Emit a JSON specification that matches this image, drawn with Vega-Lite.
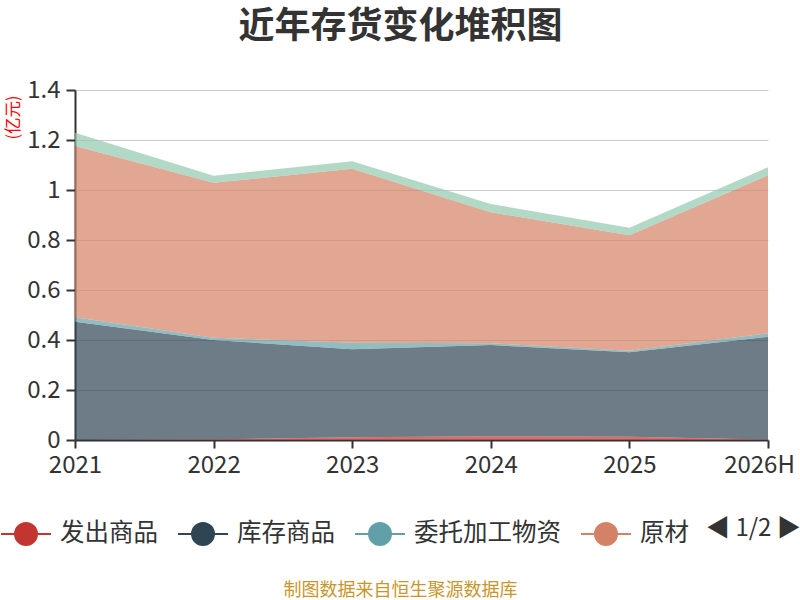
{
  "$schema": "https://vega.github.io/schema/vega-lite/v6.json",
  "autosize": {"type": "none"},
  "width": 693,
  "height": 350,
  "padding": {"left": 75, "top": 90, "right": 32, "bottom": 160},
  "background": "#ffffff",
  "config": {"font": "Noto Sans CJK SC", "view": {"stroke": null}},
  "title": {"text": "近年存货变化堆积图", "fontSize": 36, "fontWeight": "bold", "color": "#333333", "anchor": "middle", "dx": -21, "offset": 15, "baseline": "middle"},
  "data": {"values": [
    {"year": "2021", "series": "发出商品", "k": 1, "value": 0.0},
    {"year": "2022", "series": "发出商品", "k": 1, "value": 0.003},
    {"year": "2023", "series": "发出商品", "k": 1, "value": 0.011},
    {"year": "2024", "series": "发出商品", "k": 1, "value": 0.015},
    {"year": "2025", "series": "发出商品", "k": 1, "value": 0.013},
    {"year": "2026H", "series": "发出商品", "k": 1, "value": 0.002},
    {"year": "2021", "series": "库存商品", "k": 2, "value": 0.473},
    {"year": "2022", "series": "库存商品", "k": 2, "value": 0.397},
    {"year": "2023", "series": "库存商品", "k": 2, "value": 0.352},
    {"year": "2024", "series": "库存商品", "k": 2, "value": 0.365},
    {"year": "2025", "series": "库存商品", "k": 2, "value": 0.338},
    {"year": "2026H", "series": "库存商品", "k": 2, "value": 0.411},
    {"year": "2021", "series": "委托加工物资", "k": 3, "value": 0.018},
    {"year": "2022", "series": "委托加工物资", "k": 3, "value": 0.009},
    {"year": "2023", "series": "委托加工物资", "k": 3, "value": 0.026},
    {"year": "2024", "series": "委托加工物资", "k": 3, "value": 0.007},
    {"year": "2025", "series": "委托加工物资", "k": 3, "value": 0.006},
    {"year": "2026H", "series": "委托加工物资", "k": 3, "value": 0.014},
    {"year": "2021", "series": "原材料", "k": 4, "value": 0.685},
    {"year": "2022", "series": "原材料", "k": 4, "value": 0.620},
    {"year": "2023", "series": "原材料", "k": 4, "value": 0.696},
    {"year": "2024", "series": "原材料", "k": 4, "value": 0.524},
    {"year": "2025", "series": "原材料", "k": 4, "value": 0.462},
    {"year": "2026H", "series": "原材料", "k": 4, "value": 0.632},
    {"year": "2021", "series": "在产品", "k": 5, "value": 0.053},
    {"year": "2022", "series": "在产品", "k": 5, "value": 0.028},
    {"year": "2023", "series": "在产品", "k": 5, "value": 0.030},
    {"year": "2024", "series": "在产品", "k": 5, "value": 0.033},
    {"year": "2025", "series": "在产品", "k": 5, "value": 0.030},
    {"year": "2026H", "series": "在产品", "k": 5, "value": 0.032}
  ]},
  "mark": {"type": "area", "opacity": 0.7},
  "encoding": {
    "x": {
      "field": "year", "type": "ordinal", "sort": null,
      "scale": {"type": "point", "padding": 0},
      "axis": {
        "title": "制图数据来自恒生聚源数据库", "titleColor": "#c9962b", "titleFontSize": 18, "titleFontWeight": "normal",
        "titleX": 325, "titleY": 150, "titleAlign": "center", "titleBaseline": "middle",
        "labelAngle": 0, "labelFontSize": 24, "labelColor": "#333333", "labelPadding": 5,
        "labelOffset": {"condition": {"test": "datum.value == '2026H'", "value": -9}, "value": 0},
        "tickColor": "#333333", "tickSize": 8, "tickWidth": 2, "domainColor": "#333333", "domainWidth": 2, "grid": false
      }
    },
    "y": {
      "field": "value", "type": "quantitative", "stack": "zero",
      "scale": {"domain": [0, 1.4], "nice": false},
      "axis": {
        "values": [0, 0.2, 0.4, 0.6, 0.8, 1, 1.2, 1.4], "format": "~g",
        "labelFontSize": 24, "labelColor": "#333333", "labelPadding": 6,
        "tickColor": "#333333", "tickSize": 9, "tickWidth": 2, "domainColor": "#333333", "domainWidth": 2,
        "gridColor": "#cccccc", "gridWidth": 1,
        "title": "(亿元)", "titleColor": "#ff0000", "titleFontSize": 16.5, "titleFontWeight": "normal",
        "titleAngle": 270, "titleX": -62, "titleY": 27, "titleAlign": "center", "titleBaseline": "middle"
      }
    },
    "color": {
      "field": "series", "type": "nominal",
      "scale": {"domain": ["发出商品", "库存商品", "委托加工物资", "原材料", "在产品"], "range": ["#c23531", "#2f4554", "#61a0a8", "#d48265", "#91c7ae"]},
      "legend": {
        "values": ["发出商品", "库存商品", "委托加工物资", "原材料"],
        "orient": "none", "legendX": -75, "legendY": 418, "direction": "horizontal",
        "symbolType": "M-1,0L1,0M-0.44,0A0.44,0.44,0,1,1,0.44,0A0.44,0.44,0,1,1,-0.44,0Z",
        "symbolSize": 2500, "symbolOpacity": 1, "symbolStrokeWidth": 2,
        "labelFontSize": 24.5, "labelColor": "#333333", "labelOffset": 8, "columnPadding": 16, "labelLimit": 300,
        "labelExpr": "datum.label == '原材料' ? '原材' : datum.label",
        "title": "◀ 1/2 ▶", "titleOrient": "right", "titleFontSize": 24, "titleFontWeight": "normal", "titleColor": "#333333", "titlePadding": 17,
        "encode": {"symbols": {"update": {"stroke": {"scale": "color", "field": "value"}}}}
      }
    },
    "order": {"field": "k", "type": "quantitative"}
  }
}
